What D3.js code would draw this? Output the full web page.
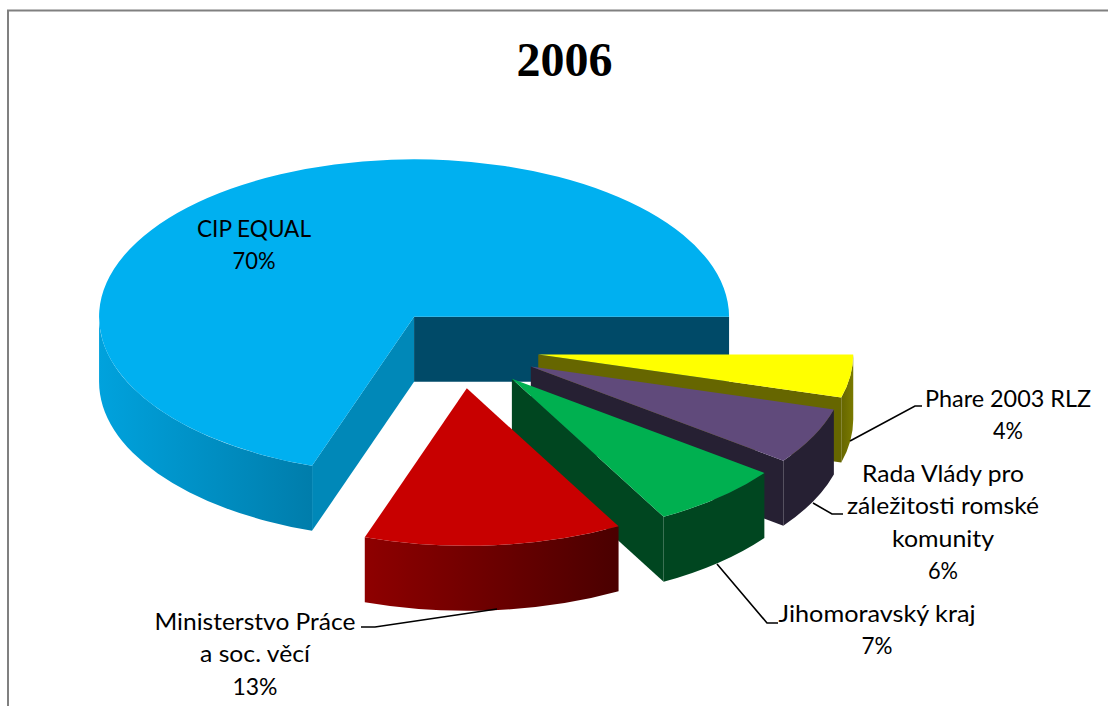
<!DOCTYPE html>
<html><head><meta charset="utf-8">
<script src="https://cdn.jsdelivr.net/npm/d3@7/dist/d3.min.js"></script>
<style>html,body{margin:0;padding:0;background:#fff}svg{display:block}</style>
</head><body><svg id="c" width="1108" height="706"></svg>
<script>
const title = "2006";
const categories = ["CIP EQUAL","Phare 2003 RLZ","Rada Vlády pro záležitosti romské komunity","Jihomoravský kraj","Ministerstvo Práce a soc. věcí"];
const values = [69.75, 4.4, 5.8, 6.8, 13.25];
const topColors  = ["#00b0f0","#ffff00","#604a7b","#00b050","#c80000"];
const faceColors = ["#0088b8","#666600","#262033","#004620","#7a0000"];
const backFaceColor = "#004a68";
const wallFrom = ["#00a2dd","#666600","#262033","#004620","#8e0000"];
const wallTo   = ["#007dab","#7a7a00","#262033","#004620","#4a0000"];
const labelLines = [
  ["CIP EQUAL","70%"],
  ["Phare 2003 RLZ","4%"],
  ["Rada Vlády pro","záležitosti romské","komunity","6%"],
  ["Jihomoravský kraj","7%"],
  ["Ministerstvo Práce","a soc. věcí","13%"]
];
const labelWidths = [[114,43],[166,30],[162,192,102,30],[197,31],[201,110,45]];
const labelAnchors = [[254,237],[1008,407],[943,482],[877,622],[255,630]];
const leaders = [null,
  [[850,441],[915,406],[922,406]],
  [[813,503],[832,514],[843,514]],
  [[717,564],[767,623],[778,623]],
  [[497,609],[375,627],[361,627]]
];

const cx=460, cy=349, R=315, ratio=0.5, depth=65, explode=79, rad=Math.PI/180;
const svg=d3.select("#c");
const defs=svg.append("defs");

svg.append("path").attr("d","M8,706V10.5H1108").attr("fill","none").attr("stroke","#808080").attr("stroke-width",2);

const pie=d3.pie().sort(null).value(d=>d).startAngle(198.9*rad).endAngle(558.9*rad);
// slices past the full turn are brought back into the first turn
const arcs=pie(values).map(d=>{
  const off=d.startAngle>=2*Math.PI?2*Math.PI:0;
  return {...d,startAngle:d.startAngle-off,endAngle:d.endAngle-off};
});
const arc=d3.arc().innerRadius(0).outerRadius(R);
const line=d3.line();

function pt(o,a,dy=0){return [o[0]+R*Math.sin(a), o[1]-R*ratio*Math.cos(a)+dy];}
function wallPath(o,a0,a1){
  const p0=pt(o,a0),p1=pt(o,a1),q0=pt(o,a0,depth),q1=pt(o,a1,depth);
  const rr=`${R},${R*ratio}`;
  return `M${p0}A${rr} 0 0 1 ${p1}L${q1}A${rr} 0 0 0 ${q0}Z`;
}

arcs.forEach((d,i)=>{
  const mid=(d.startAngle+d.endAngle)/2;
  const o=[cx+explode*Math.sin(mid), cy-explode*ratio*Math.cos(mid)];
  const g=svg.append("g");
  const id="w"+i;
  const lo=Math.max(d.startAngle,90*rad), hi=Math.min(d.endAngle,270*rad);
  const xs=[pt(o,lo)[0],pt(o,hi)[0]];
  const lg=defs.append("linearGradient").attr("id",id).attr("gradientUnits","userSpaceOnUse")
    .attr("x1",Math.min(...xs)).attr("x2",Math.max(...xs)).attr("y1",0).attr("y2",0);
  lg.append("stop").attr("offset",0).attr("stop-color",wallFrom[i]);
  lg.append("stop").attr("offset",1).attr("stop-color",wallTo[i]);
  const face=(a,color)=>g.append("path")
    .attr("d",line([o,pt(o,a),pt(o,a,depth),[o[0],o[1]+depth]])+"Z").attr("fill",color);
  if(Math.sin(d.startAngle)<0) face(d.startAngle,faceColors[i]);
  if(Math.sin(d.endAngle)>0) face(d.endAngle,i===0?backFaceColor:faceColors[i]);
  if(hi>lo) g.append("path").attr("d",wallPath(o,lo,hi)).attr("fill",`url(#${id})`);
  g.append("path").attr("d",arc(d))
    .attr("transform",`translate(${o[0]},${o[1]}) scale(1,${ratio})`)
    .attr("fill",topColors[i]);
});

leaders.forEach(l=>{ if(l) svg.append("path").attr("d",line(l)).attr("fill","none").attr("stroke","#000").attr("stroke-width",1.6); });

labelLines.forEach((lines,i)=>{
  lines.forEach((t,j)=>{
    svg.append("text").attr("x",labelAnchors[i][0]).attr("y",labelAnchors[i][1]+j*32.4)
      .attr("text-anchor","middle").attr("font-family","Lato, sans-serif").attr("font-size",24)
      .attr("textLength",labelWidths[i][j]).attr("lengthAdjust","spacingAndGlyphs")
      .attr("fill","#000").text(t);
  });
});
svg.append("text").attr("x",564.5).attr("y",76).attr("text-anchor","middle")
  .attr("font-family","'Liberation Serif', serif").attr("font-weight","bold").attr("font-size",48).text(title);
</script></body></html>
